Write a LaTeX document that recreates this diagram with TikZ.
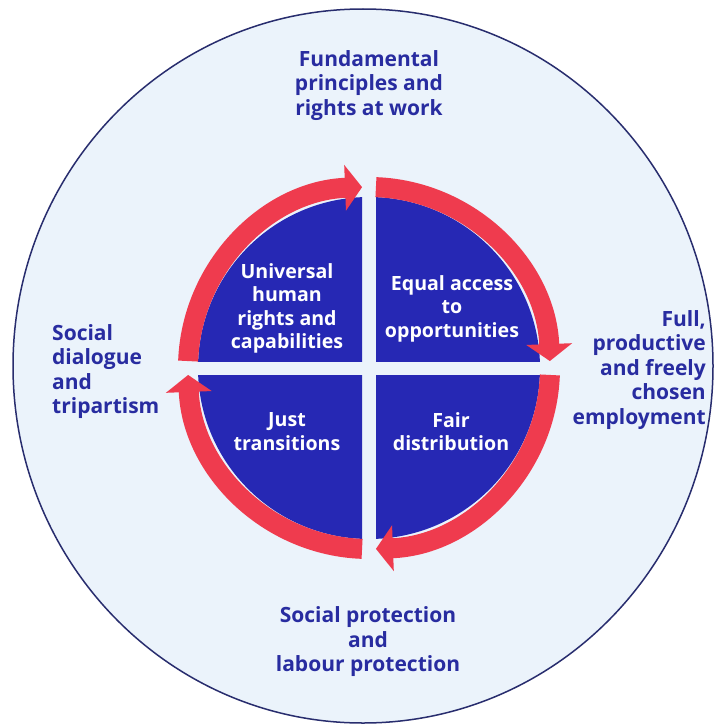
\documentclass[tikz,border=0pt]{standalone}
\usepackage{fontspec}
\setmainfont{Open Sans}
\usetikzlibrary{arrows.meta}
\definecolor{bgblue}{RGB}{235,243,251}
\definecolor{rimblue}{RGB}{40,45,110}
\definecolor{quadblue}{RGB}{38,40,180}
\definecolor{ringred}{RGB}{239,59,78}
\definecolor{textblue}{RGB}{40,44,160}
\begin{document}
\begin{tikzpicture}[x=1pt,y=-1pt,
    outer text/.style={text=textblue, font=\fontsize{21}{24.5}\selectfont\bfseries, align=center, inner sep=0pt},
    quad text/.style={text=white, font=\fontsize{19.6}{23.5}\selectfont\bfseries, align=center, inner sep=0pt},
    cycle arrow/.style={draw=ringred, line width=20pt, -{Triangle[width=45pt,length=17pt]}}]
    \useasboundingbox (0,0) rectangle (715,725);
    \fill[white] (0,0) rectangle (715,725);

    \coordinate (o) at (363,366);
    \coordinate (c) at (369,368);

    \filldraw[fill=bgblue, draw=rimblue, line width=1.5pt] (o) ellipse [x radius=350, y radius=357];

    % four quarters
    \foreach \sx/\sy in {1/1,1/-1,-1/1,-1/-1} {
        \begin{scope}
            \clip ([shift={(\sx*7,\sy*7)}]c) rectangle ++(\sx*200,\sy*200);
            \fill[quadblue] (c) circle (171);
        \end{scope}
    }

    % arrows round the quarters
    \foreach \s/\e in {2.2/87.8, 92.2/177.8, 182.2/267.8, 272.2/357.8}
        \draw[cycle arrow] ([shift={(\s:181)}]c) arc[start angle=\s, end angle=\e, radius=181];

    \node[quad text] (rights) at (287,308.5) {Universal\\human\\rights and\\capabilities};
    \node[quad text] (access) at (452,308.5) {Equal access\\to\\opportunities};
    \node[quad text] (transitions) at (287,431.5) {Just\\transitions};
    \node[quad text] (distribution) at (451,431.5) {Fair\\distribution};

    \node[outer text] (principles) at (369,85.5) {Fundamental\\principles and\\rights at work};
    \node[outer text, anchor=west, align=left] (dialogue) at (52,371.5) {Social\\dialogue\\and\\tripartism};
    \node[outer text, anchor=east, align=right] (employment) at (706,370) {Full,\\productive\\and freely\\chosen\\employment};
    \node[outer text] (protection) at (368,642) {Social protection\\and\\labour protection};
\end{tikzpicture}
\end{document}
